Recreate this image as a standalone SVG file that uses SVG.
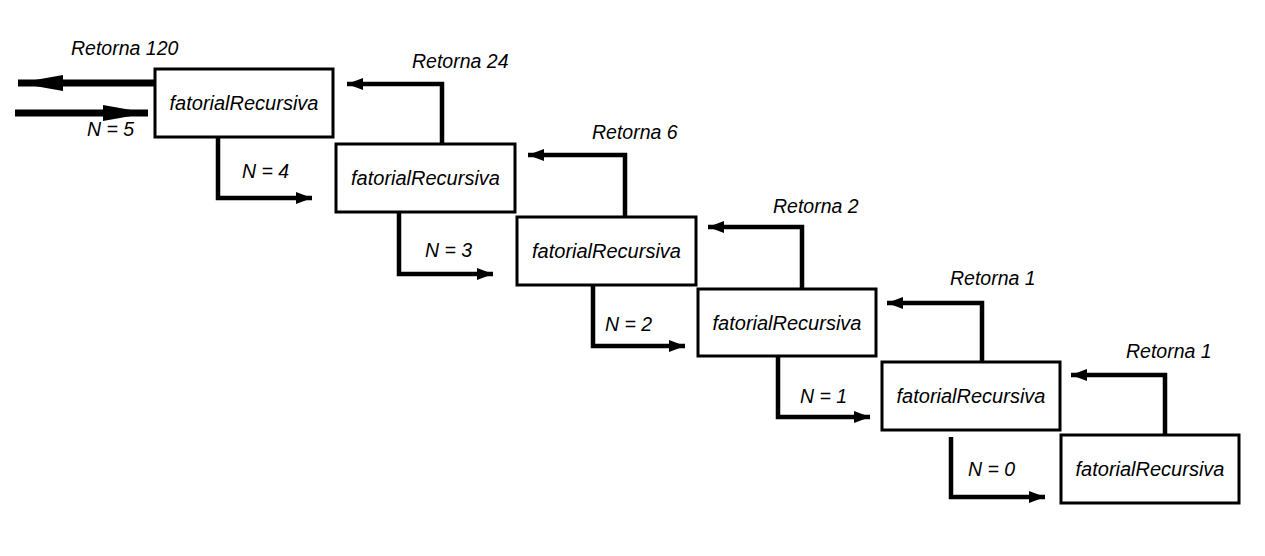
<svg xmlns="http://www.w3.org/2000/svg" width="1265" height="556" viewBox="0 0 1265 556">
<style>
.box{fill:#fff;stroke:#000;stroke-width:3}
.bt{font-family:"Liberation Sans",Arial,sans-serif;font-style:italic;font-size:20px;fill:#000;text-anchor:middle}
.lb{font-family:"Liberation Sans",Arial,sans-serif;font-style:italic;font-size:19.5px;fill:#000}
.ln{fill:none;stroke:#000;stroke-width:4.5;stroke-linejoin:miter;stroke-linecap:butt}
.big{fill:none;stroke:#000;stroke-width:7;stroke-linecap:butt}
</style>
<defs>
<marker id="ah" markerUnits="userSpaceOnUse" markerWidth="16" markerHeight="12" refX="16" refY="6" orient="auto">
<path d="M0,0 L16,6 L0,12 z" fill="#000"/>
</marker>
<marker id="ahBig" markerUnits="userSpaceOnUse" markerWidth="45" markerHeight="16" refX="45" refY="8" orient="auto">
<path d="M0,0 L45,8 L0,16 z" fill="#000"/>
</marker>
</defs>
<rect width="1265" height="556" fill="#fff"/>
<g id="connectors">
<path class="big" d="M155,83 H18" marker-end="url(#ahBig)"/>
<path class="big" d="M15,113 H148" marker-end="url(#ahBig)"/>
<path class="ln" d="M442,144 V84 H347" marker-end="url(#ah)"/>
<path class="ln" d="M625,217 V155 H528" marker-end="url(#ah)"/>
<path class="ln" d="M802,289 V227 H708" marker-end="url(#ah)"/>
<path class="ln" d="M982,362 V303 H887" marker-end="url(#ah)"/>
<path class="ln" d="M1165,435 V375 H1071" marker-end="url(#ah)"/>
<path class="ln" d="M218,137 V198 H312" marker-end="url(#ah)"/>
<path class="ln" d="M399,212 V274 H493" marker-end="url(#ah)"/>
<path class="ln" d="M593,285 V346 H685" marker-end="url(#ah)"/>
<path class="ln" d="M778,356 V417 H870" marker-end="url(#ah)"/>
<path class="ln" d="M951,437 V497 H1045" marker-end="url(#ah)"/>
<text class="lb" x="71" y="55">Retorna 120</text>
<text class="lb" x="412" y="68">Retorna 24</text>
<text class="lb" x="592" y="139">Retorna 6</text>
<text class="lb" x="773" y="213">Retorna 2</text>
<text class="lb" x="950" y="285">Retorna 1</text>
<text class="lb" x="1126" y="358">Retorna 1</text>
<text class="lb" x="87" y="136">N = 5</text>
<text class="lb" x="242" y="178">N = 4</text>
<text class="lb" x="425" y="257">N = 3</text>
<text class="lb" x="605" y="331">N = 2</text>
<text class="lb" x="800" y="403">N = 1</text>
<text class="lb" x="968" y="476">N = 0</text>
</g>
<g id="n1"><rect class="box" x="155" y="69" width="178" height="68"/><text class="bt" x="244" y="110">fatorialRecursiva</text></g>
<g id="n2"><rect class="box" x="336" y="144" width="179" height="68"/><text class="bt" x="425.5" y="185">fatorialRecursiva</text></g>
<g id="n3"><rect class="box" x="517" y="217" width="179" height="68"/><text class="bt" x="606.5" y="258">fatorialRecursiva</text></g>
<g id="n4"><rect class="box" x="698" y="289" width="178" height="67"/><text class="bt" x="787" y="330">fatorialRecursiva</text></g>
<g id="n5"><rect class="box" x="882" y="362" width="178" height="68"/><text class="bt" x="971" y="403">fatorialRecursiva</text></g>
<g id="n6"><rect class="box" x="1061" y="435" width="178" height="68"/><text class="bt" x="1150" y="476">fatorialRecursiva</text></g>
</svg>
